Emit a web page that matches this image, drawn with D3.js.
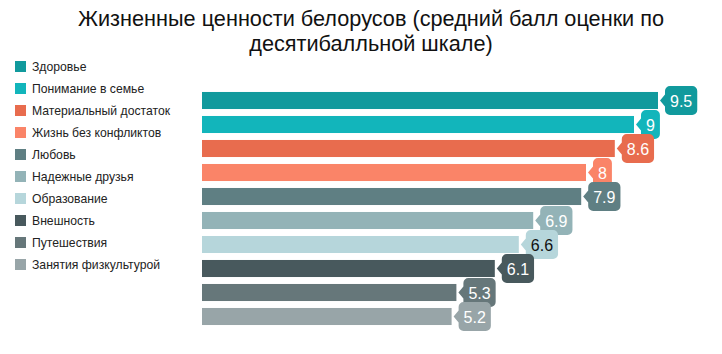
<!DOCTYPE html>
<html><head><meta charset="utf-8">
<script src="https://cdn.jsdelivr.net/npm/d3@7"></script>
<style>body{margin:0;background:#fff;} svg{display:block;}</style>
</head><body>
<svg id="c" width="722" height="354" font-family="Liberation Sans, Arial, sans-serif"></svg>
<script>
const categories = ["Здоровье","Понимание в семье","Материальный достаток","Жизнь без конфликтов","Любовь","Надежные друзья","Образование","Внешность","Путешествия","Занятия физкультурой"];
const values = [9.5, 9, 8.6, 8, 7.9, 6.9, 6.6, 6.1, 5.3, 5.2];
const colors = ["#119a9d","#12b5bb","#e86c4e","#fa8468","#5f7f83","#93b3b7","#b6d6db","#48595d","#66777a","#98a5a8"];
const labelColors = ["#fff","#fff","#fff","#fff","#fff","#fff","#111","#fff","#fff","#fff"];
const title = ["Жизненные ценности белорусов (средний балл оценки по","десятибалльной шкале)"];

const svg = d3.select("#c");
const x = d3.scaleLinear().domain([0, 10]).range([202, 682]);
const y = d3.scaleBand().domain(categories).range([88.5, 328.5]).paddingInner(0.29).paddingOuter(0.145);

svg.append("g").selectAll("text").data(title).join("text")
  .attr("x", 371).attr("y", (d,i)=>26+i*25).attr("text-anchor","middle")
  .attr("font-size", 21.7).attr("fill","#111").text(d=>d);

const leg = svg.append("g").selectAll("g").data(categories).join("g")
  .attr("transform",(d,i)=>`translate(15,${61+i*22})`);
leg.append("rect").attr("width",11).attr("height",11).attr("fill",(d,i)=>colors[i]);
leg.append("text").attr("x",17).attr("y",10).attr("font-size",12.2).attr("fill","#222").text(d=>d);

svg.append("g").selectAll("rect").data(values).join("rect")
  .attr("x", x(0)).attr("y",(d,i)=>y(categories[i]))
  .attr("width", d=>x(d)-x(0)).attr("height", y.bandwidth())
  .attr("fill",(d,i)=>colors[i]);

const lab = svg.append("g").selectAll("g").data(values).join("g")
  .attr("transform",(d,i)=>`translate(${x(d)+2},${y(categories[i])+y.bandwidth()/2})`);
lab.each(function(d,i){
  const g = d3.select(this);
  const t = g.append("text").attr("font-size",16).attr("fill",labelColors[i])
    .attr("dominant-baseline","central").text(String(d));
  const tw = t.node().getComputedTextLength();
  const w = tw + 10, h = 29, r = 5, a = 5, hh = h/2;
  const p = d3.path();
  p.moveTo(0,0);
  p.lineTo(a,-6);
  p.lineTo(a,-hh+r); p.arcTo(a,-hh,a+r,-hh,r);
  p.lineTo(a+w-r,-hh); p.arcTo(a+w,-hh,a+w,-hh+r,r);
  p.lineTo(a+w,hh-r); p.arcTo(a+w,hh,a+w-r,hh,r);
  p.lineTo(a+r,hh); p.arcTo(a,hh,a,hh-r,r);
  p.lineTo(a,6); p.closePath();
  g.insert("path","text").attr("d",p.toString()).attr("fill",colors[i]);
  t.attr("x", a+5).attr("y", 1);
});
</script>
</body></html>
